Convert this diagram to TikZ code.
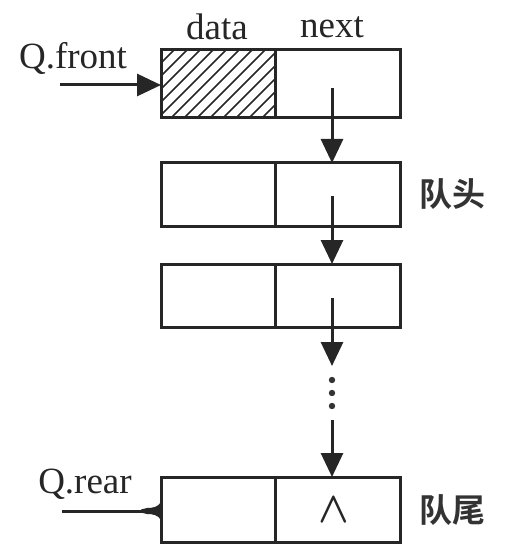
\documentclass[tikz,border=0pt]{standalone}
\usepackage{fontspec}
\setmainfont{Liberation Serif}
\newfontfamily\cjk{Noto Sans CJK SC Bold}
\usetikzlibrary{arrows.meta}
\begin{document}
\begin{tikzpicture}[x=1pt,y=-1pt,
  cell/.style={draw=black!85,line width=3pt,inner sep=0pt,outer sep=0pt,rectangle},
  dcell/.style={cell,minimum width=114pt},
  ncell/.style={cell,minimum width=125pt},
  arr/.style={draw=black!85,line width=3pt,-{Triangle[length=24pt,width=22pt]}},
  lbl/.style={font=\fontsize{37}{42}\selectfont,inner sep=0pt,text=black!85},
  clbl/.style={font=\cjk\fontsize{33}{38}\selectfont,inner sep=0pt,text=black!80}]
\useasboundingbox (0,0) rectangle (521,553);
% box 1
\node[dcell,minimum height=68pt] (d1) at (218,84) {};
\node[ncell,minimum height=68pt] (n1) at (337.5,84) {};
\begin{scope}
  \clip (d1.south west) rectangle (d1.north east);
  \foreach \i in {0,...,14} {
    \draw[line width=1.6pt,black!85] (161-68+\i*13,118) -- ++(68,-68);
  }
\end{scope}
\node[dcell,minimum height=68pt] at (218,84) {};
% box 2
\node[dcell,minimum height=63pt] (d2) at (218,194.5) {};
\node[ncell,minimum height=63pt] (n2) at (337.5,194.5) {};
% box 3
\node[dcell,minimum height=63pt] (d3) at (218,295.5) {};
\node[ncell,minimum height=63pt] (n3) at (337.5,295.5) {};
% box 4
\node[dcell,minimum height=65pt] (d4) at (218,509.5) {};
\node[ncell,minimum height=65pt] (n4) at (337.5,509.5) {};
% labels
\node[lbl] (ldata) at (217,27) {data};
\node[lbl] (lnext) at (332,27) {next};
\node[lbl] (lfront) at (73,58) {Q.front};
\node[lbl] (lrear) at (85,484) {Q.rear};
\node[clbl] (head) at (452,194) {队头};
\node[clbl] (tail) at (452,510) {队尾};
\node[inner sep=0pt,text=black!85] (nil) at (334,510) {\scalebox{4}[4.4]{\boldmath$\wedge$}};
% pointers
\coordinate (s1) at (332,88);
\coordinate (s2) at (332,196);
\coordinate (s3) at (332,298);
\coordinate (t3) at (332,366);
\coordinate (s4) at (332,420);
\coordinate (f0) at (60,85);
\coordinate (r0) at (62,511);
\draw[arr] (s1) -- (s1 |- n2.north);
\draw[arr] (s2) -- (s2 |- n3.north);
\draw[arr] (s3) -- (t3);
\foreach \y in {380,393,406} \fill[black!80] (332,\y) circle (3.2pt);
\draw[arr] (s4) -- (s4 |- n4.north);
\draw[arr] (f0) -- (f0 -| d1.west);
\draw[draw=black!85,line width=3pt] (r0) -- (r0 -| d4.west);
\fill[black!85] (d4.west |- r0) ++(0,-9) .. controls ++(-3,5) and ++(6,0) .. ++(-14,6) -- ++(-6,1.5) -- ++(0,3) -- ++(6,1.5) .. controls ++(6,0) and ++(-3,-5) .. ++(14,6) -- cycle;
\end{tikzpicture}
\end{document}
